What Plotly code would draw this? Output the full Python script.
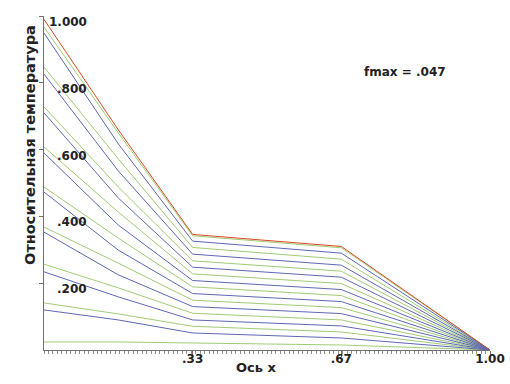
import plotly.graph_objects as go

# x positions of profile nodes (layer boundaries at 1/3 and 2/3)
x_nodes = [0.0, 1/6, 1/3, 2/3, 1.0]

red_top = [0.990, 0.659, 0.346, 0.310, 0.0]

green_lines = [
    [0.967, 0.650, 0.342, 0.306, 0.0],
    [0.847, 0.572, 0.307, 0.272, 0.0],
    [0.728, 0.488, 0.267, 0.236, 0.0],
    [0.608, 0.413, 0.228, 0.199, 0.0],
    [0.488, 0.335, 0.189, 0.163, 0.0],
    [0.368, 0.260, 0.149, 0.127, 0.0],
    [0.257, 0.186, 0.110, 0.090, 0.0],
    [0.141, 0.108, 0.071, 0.054, 0.0],
    [0.024, 0.024, 0.021, 0.015, 0.0],
]

blue_lines = [
    [0.949, 0.617, 0.326, 0.290, 0.0],
    [0.826, 0.536, 0.287, 0.254, 0.0],
    [0.710, 0.455, 0.248, 0.218, 0.0],
    [0.590, 0.374, 0.208, 0.181, 0.0],
    [0.473, 0.299, 0.169, 0.145, 0.0],
    [0.353, 0.225, 0.130, 0.109, 0.0],
    [0.234, 0.159, 0.090, 0.072, 0.0],
    [0.120, 0.090, 0.051, 0.036, 0.0],
]

y_tickvals = [0.2, 0.4, 0.6, 0.8, 1.0]
y_ticktext = [".200", ".400", ".600", ".800", "1.000"]
x_tickvals = [1/3, 2/3, 1.0]
x_ticktext = [".33", ".67", "1.00"]
x_minor_step = 0.01

GREEN = "#a0cc74"
BLUE = "#5f67b6"
RED = "#dc4a22"
AXIS = "#707070"
TEXT = "#222222"
FONT = "DejaVu Sans"

fig = go.Figure()
for g in green_lines:
    fig.add_trace(go.Scatter(x=x_nodes, y=g, mode="lines",
                             line=dict(color=GREEN, width=1), hoverinfo="skip"))
for b in blue_lines:
    fig.add_trace(go.Scatter(x=x_nodes, y=b, mode="lines",
                             line=dict(color=BLUE, width=1), hoverinfo="skip"))
# top curve drawn on the overlaying x2 axis (same range) so it gets drawn
fig.add_trace(go.Scatter(x=x_nodes, y=red_top, mode="lines", xaxis="x2", yaxis="y",
                         line=dict(color=RED, width=1), hoverinfo="skip"))

tickfont = dict(family=FONT, size=12, color=TEXT, weight="bold")

annotations = [
    dict(text=t, xref="paper", yref="y", x=0.1009, y=v, yshift=-6,
         xanchor="right", yanchor="middle", showarrow=False, font=tickfont)
    for v, t in zip(y_tickvals, y_ticktext)
]
annotations += [
    dict(text="fmax = .047", xref="paper", yref="paper", x=0.81, y=0.832,
         xanchor="center", yanchor="middle", showarrow=False, font=tickfont),
    dict(text="Ось x", xref="paper", yref="paper", x=0.476, y=-0.052,
         xanchor="center", yanchor="middle", showarrow=False,
         font=dict(family=FONT, size=13, color=TEXT, weight="bold")),
    dict(text="Относительная температура", xref="paper", yref="paper",
         x=-0.0314, y=0.614, xanchor="center", yanchor="middle",
         textangle=-90, showarrow=False,
         font=dict(family=FONT, size=14.5, color=TEXT, weight="bold")),
]

fig.update_layout(
    width=510, height=384, autosize=False,
    margin=dict(l=44, r=20, t=16, b=34, autoexpand=False),
    paper_bgcolor="white", plot_bgcolor="white",
    showlegend=False,
    font=dict(family=FONT, size=12, color=TEXT, weight="bold"),
    xaxis=dict(
        range=[0, 1], tickmode="linear", tick0=0, dtick=x_minor_step,
        showticklabels=False, automargin=False,
        showgrid=False, zeroline=False, showline=True, linecolor=AXIS, linewidth=1,
        ticks="outside", ticklen=3, tickcolor="#909090", tickwidth=1,
    ),
    xaxis2=dict(
        range=[0, 1], overlaying="x", anchor="y", side="bottom",
        tickmode="array", tickvals=x_tickvals, ticktext=x_ticktext,
        showgrid=False, zeroline=False, showline=False, automargin=False,
        ticks="outside", ticklen=6, tickcolor=AXIS, tickwidth=1,
        ticklabelstandoff=-8,
        tickfont=tickfont,
    ),
    yaxis=dict(
        range=[0, 1], tickmode="array", tickvals=y_tickvals,
        showticklabels=False, automargin=False,
        showgrid=False, zeroline=False, showline=True, linecolor=AXIS, linewidth=1,
        ticks="outside", ticklen=4, tickcolor=AXIS, tickwidth=1,
    ),
    annotations=annotations,
)

fig.write_html("out.html", config={"displayModeBar": False, "responsive": False},
               post_script="document.body.style.margin='0';")
